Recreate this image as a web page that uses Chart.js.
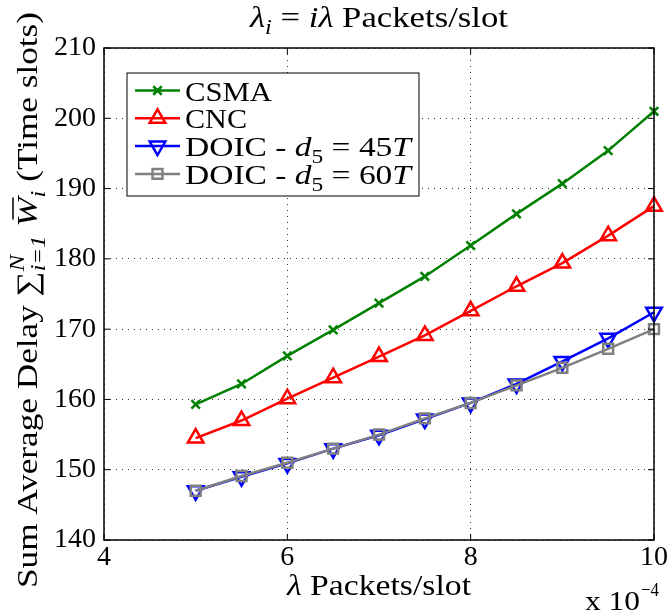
<!DOCTYPE html>
<html lang="en">
<head>
<meta charset="UTF-8">
<title>Sum Average Delay</title>
<script src="https://cdn.jsdelivr.net/npm/chart.js"></script>
<style>
  body { margin: 0; background: #fff; }
  canvas { display: block; }
</style>
</head>
<body>
<canvas id="delayChart" width="669" height="613"></canvas>
<script>
// lambda values (x 10^-4 packets/slot)
const lambdas = [5, 5.5, 6, 6.5, 7, 7.5, 8, 8.5, 9, 9.5, 10];
const csma   = [159.3, 162.2, 166.2, 169.9, 173.7, 177.5, 181.9, 186.4, 190.7, 195.4, 201.0];
const cnc    = [154.5, 157.0, 160.1, 163.1, 166.1, 169.1, 172.6, 176.1, 179.4, 183.3, 187.5];
const doic45 = [147.0, 149.0, 150.9, 153.0, 154.9, 157.2, 159.5, 162.2, 165.4, 168.7, 172.4];
const doic60 = [147.0, 149.1, 151.0, 153.0, 155.0, 157.3, 159.5, 162.0, 164.5, 167.2, 170.0];
const xTicks = [4, 6, 8, 10];
const yTicks = [140, 150, 160, 170, 180, 190, 200, 210];

const FONT = '"Liberation Serif", "DejaVu Serif", serif';
const FS = 28;

function pts(vals) {
    return lambdas.map((x, i) => ({ x: x, y: vals[i] }));
}

function series(label, vals, color, style, radius, rotation, order) {
    return {
        label: label,
        data: pts(vals),
        borderColor: color,
        borderWidth: 2.5,
        tension: 0,
        pointStyle: style,
        pointRadius: radius,
        pointRotation: rotation,
        pointBorderColor: color,
        pointBorderWidth: 2.5,
        pointBackgroundColor: 'rgba(0,0,0,0)',
        clip: false,
        order: order
    };
}

// text made of pieces: normal / italic / sub / sup
function runWidth(ctx, runs, size) {
    let w = 0;
    runs.forEach(r => {
        const s = (r.sub || r.sup) ? size * 0.7 : size;
        ctx.font = (r.it ? 'italic ' : '') + s + 'px ' + FONT;
        if (!r.stack) w += ctx.measureText(r.t).width;
    });
    return w;
}

// draws the runs starting at x (baseline y), stretched to width tw if given
function drawRuns(ctx, runs, x, y, size, tw) {
    const nat = runWidth(ctx, runs, size);
    const sx = tw ? tw / nat : 1;
    ctx.save();
    ctx.translate(x, y);
    ctx.scale(sx, 1);
    let cx = 0;
    runs.forEach(r => {
        const s = (r.sub || r.sup) ? size * 0.7 : size;
        ctx.font = (r.it ? 'italic ' : '') + s + 'px ' + FONT;
        const dy = r.sub ? size * 0.25 : (r.sup ? -size * 0.42 : 0);
        ctx.fillText(r.t, cx, dy);
        const w = ctx.measureText(r.t).width;
        if (r.bar) {
            ctx.lineWidth = 1.5;
            ctx.beginPath();
            ctx.moveTo(cx + w * 0.25, -size * 0.8);
            ctx.lineTo(cx + w * 1.0, -size * 0.8);
            ctx.stroke();
        }
        if (!r.stack) cx += w;
    });
    ctx.restore();
    return nat * sx;
}

function marker(ctx, style, x, y, radius, rotation) {
    const opts = { pointStyle: style, radius: radius, rotation: rotation, borderWidth: 2.5 };
    if (Chart.helpers && Chart.helpers.drawPoint) {
        Chart.helpers.drawPoint(ctx, opts, x, y);
    }
}

const legendRows = [
    { color: '#008000', style: 'crossRot', r: 6, rot: 0, w: 87, runs: [{ t: 'CSMA' }] },
    { color: '#ff0000', style: 'triangle', r: 9, rot: 0, w: 62, runs: [{ t: 'CNC' }] },
    { color: '#0000ff', style: 'triangle', r: 9, rot: 180, w: 226,
      runs: [{ t: 'DOIC - ' }, { t: 'd', it: true }, { t: '5', sub: true }, { t: ' = 45' }, { t: 'T', it: true }] },
    { color: '#808080', style: 'rect', r: 7, rot: 0, w: 226,
      runs: [{ t: 'DOIC - ' }, { t: 'd', it: true }, { t: '5', sub: true }, { t: ' = 60' }, { t: 'T', it: true }] }
];

const decorations = {
    id: 'decorations',
    afterDraw(chart) {
        const ctx = chart.ctx;
        const a = chart.chartArea;
        const xs = chart.scales.x, ys = chart.scales.y;
        ctx.save();

        // box and inner tick marks
        ctx.strokeStyle = '#000';
        ctx.lineWidth = 1.5;
        ctx.strokeRect(a.left, a.top, a.right - a.left, a.bottom - a.top);
        ctx.lineWidth = 1;
        ctx.beginPath();
        xTicks.forEach(v => {
            const px = xs.getPixelForValue(v);
            ctx.moveTo(px, a.bottom); ctx.lineTo(px, a.bottom - 6);
            ctx.moveTo(px, a.top); ctx.lineTo(px, a.top + 6);
        });
        yTicks.forEach(v => {
            const py = ys.getPixelForValue(v);
            ctx.moveTo(a.left, py); ctx.lineTo(a.left + 6, py);
            ctx.moveTo(a.right, py); ctx.lineTo(a.right - 6, py);
        });
        ctx.stroke();

        // legend
        const lx = 127, ly = 73, lw = 292, lh = 123;
        ctx.fillStyle = '#fff';
        ctx.fillRect(lx, ly, lw, lh);
        ctx.strokeStyle = '#000';
        ctx.lineWidth = 1;
        ctx.strokeRect(lx, ly, lw, lh);
        legendRows.forEach((row, i) => {
            const base = 100.5 + i * 27.8;
            const cy = base - 10;
            ctx.strokeStyle = row.color;
            ctx.lineWidth = 2.5;
            ctx.beginPath();
            ctx.moveTo(135, cy);
            ctx.lineTo(180, cy);
            ctx.stroke();
            ctx.fillStyle = 'rgba(0,0,0,0)';
            marker(ctx, row.style, 157.5, cy, row.r, row.rot);
            ctx.fillStyle = '#000';
            ctx.textBaseline = 'alphabetic';
            ctx.textAlign = 'left';
            drawRuns(ctx, row.runs, 185, base, FS, row.w);
        });

        ctx.fillStyle = '#000';
        ctx.strokeStyle = '#000';
        ctx.textBaseline = 'alphabetic';
        ctx.textAlign = 'left';

        // title
        const title = [{ t: 'λ', it: true }, { t: 'i', it: true, sub: true }, { t: ' = ' },
                       { t: 'iλ', it: true }, { t: ' Packets/slot' }];
        drawRuns(ctx, title, 379 - 258 / 2, 27, 29, 258);

        // x label
        const xl = [{ t: 'λ', it: true }, { t: ' Packets/slot' }];
        drawRuns(ctx, xl, 379 - 184 / 2, 595, 29, 184);

        // exponent
        drawRuns(ctx, [{ t: 'x 10' }], 585, 610, 27, 55);
        drawRuns(ctx, [{ t: '−4' }], 641, 596, 19, 18);

        // y label
        const yl = [{ t: 'Sum Average Delay ' }, { t: '∑' },
                    { t: 'N', it: true, sup: true, stack: true }, { t: 'i=1', it: true, sub: true },
                    { t: ' ' }, { t: 'W', it: true, bar: true }, { t: 'i', it: true, sub: true },
                    { t: ' (Time slots)' }];
        ctx.save();
        ctx.translate(37, 300);
        ctx.rotate(-Math.PI / 2);
        drawRuns(ctx, yl, -576 / 2, 0, 30, 576);
        ctx.restore();

        ctx.restore();
    }
};

const grid = {
    color: '#333',
    lineWidth: 1,
    drawTicks: false
};

new Chart(document.getElementById('delayChart'), {
    type: 'line',
    data: {
        datasets: [
            series('CSMA', csma, '#008000', 'crossRot', 6, 0, 4),
            series('CNC', cnc, '#ff0000', 'triangle', 9, 0, 3),
            series('DOIC - d5 = 45T', doic45, '#0000ff', 'triangle', 9, 180, 2),
            series('DOIC - d5 = 60T', doic60, '#808080', 'rect', 7, 0, 1)
        ]
    },
    options: {
        responsive: false,
        animation: false,
        layout: { padding: { left: 0, right: 14, top: 48, bottom: 0 } },
        plugins: {
            legend: { display: false },
            tooltip: { enabled: false }
        },
        scales: {
            x: {
                type: 'linear',
                min: 4,
                max: 10,
                afterBuildTicks: s => { s.ticks = xTicks.map(v => ({ value: v })); },
                afterFit: s => { s.height = 73; },
                grid: grid,
                border: { display: false, dash: [1, 5] },
                ticks: { color: '#000', padding: 1, maxRotation: 0, font: { family: FONT, size: FS } }
            },
            y: {
                min: 140,
                max: 210,
                afterBuildTicks: s => { s.ticks = yTicks.map(v => ({ value: v })); },
                afterFit: s => { s.width = 104; },
                grid: grid,
                border: { display: false, dash: [1, 5] },
                ticks: { color: '#000', padding: 8, font: { family: FONT, size: FS } }
            }
        }
    },
    plugins: [decorations]
});
</script>
</body>
</html>
